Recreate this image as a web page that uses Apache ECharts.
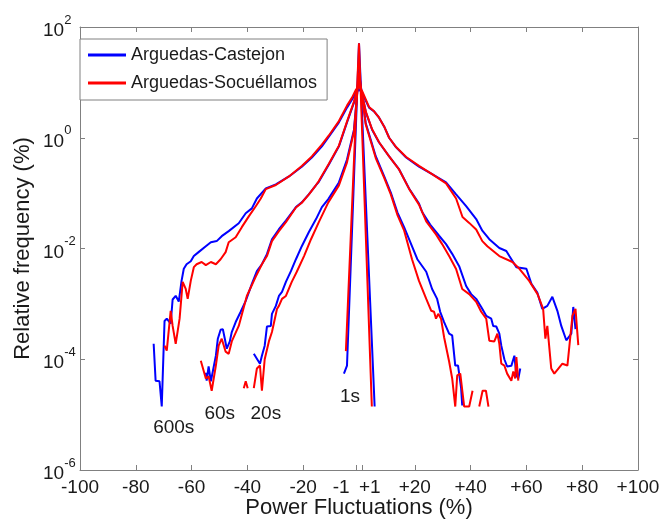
<!DOCTYPE html>
<html>
<head>
<meta charset="utf-8">
<title>Power fluctuations</title>
<script src="https://cdn.jsdelivr.net/npm/echarts@6/dist/echarts.min.js"></script>
<style>
  html, body { margin: 0; padding: 0; background: #fff; }
  #chart { width: 662px; height: 521px; }
</style>
</head>
<body>
<div id="chart"></div>
<script>
// [fluctuation %, relative frequency %]
var castejon600 = [[-73.6,1.9e-4],[-72.9,4.1e-5],[-71.5,4.0e-5],[-70.7,1.4e-5],[-69.7,4.9e-4],[-68.9,5.4e-4],[-67.5,4.4e-4],[-66.8,1.2e-3],[-65.7,1.4e-3],[-64.6,1.1e-3],[-63.6,2.6e-3],[-62.8,4.3e-3],[-61.8,5.2e-3],[-60.3,5.9e-3],[-59.2,7.3e-3],[-57.5,8.6e-3],[-54.9,0.011],[-53.1,0.013],[-51.0,0.0136],[-49.2,0.0167],[-46.7,0.0206],[-43.1,0.0286],[-40.6,0.0434],[-38.4,0.053],[-36.6,0.08],[-33.4,0.122],[-29.8,0.144],[-25.1,0.2],[-20.5,0.30],[-16.9,0.44],[-13.3,0.70],[-10.8,1.05],[-7.2,1.9],[-4.3,3.5],[-2.5,4.9],[-1.1,6.5],[0,7.5],[1.1,6.5],[3.6,3.5],[5.4,3.0],[7.2,2.3],[9.0,1.6],[10.8,1.0],[13.3,0.67],[16.9,0.44],[21.5,0.30],[26.2,0.22],[31.2,0.156],[34.8,0.095],[38.4,0.058],[42.0,0.034],[44.2,0.021],[46.7,0.0147],[50.3,0.0102],[52.8,0.009],[53.9,0.0073],[56.4,0.0046],[60.0,0.0043],[61.8,0.0023],[63.9,0.0016],[65.7,8.1e-4],[67.5,9.2e-4],[69.3,1.34e-3],[71.1,7.5e-4],[72.5,4.0e-4],[74.3,2.2e-4],[76.1,2.9e-4],[76.8,8.8e-4],[77.6,3.5e-4]];
var castejon60 = [[-54.9,5.7e-5],[-54.6,4.1e-5],[-53.9,7.4e-5],[-53.1,4.0e-5],[-52.4,6.0e-5],[-51.3,1.16e-4],[-50.6,2.35e-4],[-49.6,3.4e-4],[-48.8,3.5e-4],[-48.1,2.35e-4],[-47.4,1.55e-4],[-46.3,2.1e-4],[-45.6,3.1e-4],[-44.2,4.7e-4],[-42.4,7.2e-4],[-40.6,1.13e-3],[-38.4,2.3e-3],[-36.6,3.9e-3],[-34.8,5.2e-3],[-33.0,7.9e-3],[-31.2,0.0147],[-28.7,0.0223],[-26.2,0.032],[-22.6,0.056],[-20.5,0.068],[-18.0,0.095],[-15.4,0.14],[-14.4,0.16],[-10.8,0.33],[-7.2,0.70],[-4.3,1.9],[-1.8,4.3],[0,10],[1.1,6.0],[2.5,2.84],[4.7,1.4],[7.2,0.82],[10.8,0.46],[14.4,0.268],[18.0,0.12],[21.5,0.065],[22.7,0.045],[25.5,0.027],[28.7,0.017],[31.2,0.012],[33.4,8.0e-3],[35.9,4.8e-3],[38.4,2.1e-3],[40.2,1.5e-3],[42.0,1.23e-3],[43.8,8.8e-4],[45.6,6.1e-4],[47.4,5.4e-4],[48.1,4.0e-4],[49.2,3.9e-4],[50.3,2.9e-4],[51.0,1.76e-4],[52.1,1.0e-4],[53.1,7.4e-5],[54.6,7.6e-5],[55.7,1.16e-4],[56.4,5.1e-5],[57.1,4.5e-5],[57.8,6.8e-5]];
var castejon20 = [[-37.7,1.26e-4],[-35.5,8.3e-5],[-34.8,1.16e-4],[-33.8,1.76e-4],[-33.0,3.9e-4],[-31.6,4.0e-4],[-31.2,6.6e-4],[-29.8,9.2e-4],[-28.7,1.39e-3],[-27.6,1.64e-3],[-26.2,2.5e-3],[-24.4,3.9e-3],[-22.6,6.4e-3],[-20.5,0.011],[-18.0,0.0197],[-15.4,0.034],[-13.3,0.056],[-11.0,0.078],[-7.2,0.156],[-4.3,0.405],[-1.8,1.4],[0,15.5],[2.4,1.85],[6.0,0.465],[9.0,0.203],[11.4,0.102],[13.8,0.0446],[16.2,0.024],[20.9,6.4e-3],[24.1,3.8e-3],[26.2,1.86e-3],[28.0,1.23e-3],[29.1,7.2e-4],[30.5,4.7e-4],[32.3,2.9e-4],[33.4,2.7e-4],[34.5,7.7e-5],[35.5,7.7e-5],[36.6,3.0e-5],[37.0,1.46e-5]];
var castejon1 = [[-5.4,5.5e-5],[-4.3,7.7e-5],[-3,4.4e-3],[-2,0.1],[-1,2.3],[0,51],[1,3.5],[2,0.23],[3,0.016],[4,1.07e-3],[5,7.2e-5],[5.6,1.4e-5]];

var socuellamos600 = [[-69.7,1.76e-4],[-68.9,1.43e-4],[-67.5,7.5e-4],[-66.8,4.0e-4],[-65.7,1.9e-4],[-64.3,5.4e-4],[-63.2,2.5e-3],[-62.1,1.86e-3],[-61.4,1.23e-3],[-60.3,2.6e-3],[-59.2,4.6e-3],[-58.2,5.2e-3],[-56.4,5.7e-3],[-54.9,5.0e-3],[-53.1,5.7e-3],[-51.3,5.2e-3],[-49.6,6.4e-3],[-47.8,8.6e-3],[-46.7,0.013],[-44.2,0.016],[-42.0,0.0243],[-39.5,0.038],[-37.0,0.058],[-35.2,0.08],[-33.4,0.118],[-29.8,0.14],[-25.1,0.2],[-20.5,0.31],[-16.9,0.46],[-13.3,0.75],[-10.8,1.1],[-7.2,2.0],[-4.3,3.8],[-2.5,5.3],[-1.1,7.4],[0,8.5],[1.1,7.0],[3.6,3.6],[5.4,3.0],[7.2,2.3],[9.0,1.6],[10.8,1.0],[13.3,0.68],[16.9,0.45],[21.5,0.31],[26.2,0.22],[31.2,0.15],[34.8,0.08],[37.1,0.037],[39.5,0.029],[42.0,0.022],[44.2,0.0136],[46.0,0.011],[50.3,0.0073],[55.0,5.7e-3],[57.5,4.3e-3],[61.0,2.6e-3],[64.0,1.5e-3],[66.0,8.1e-4],[66.8,2.35e-4],[67.5,4.0e-4],[68.9,6.8e-5],[70.0,5.5e-5],[72.9,8.3e-5],[74.7,7.7e-5],[76.5,6.1e-4],[77.6,8.1e-4],[78.6,1.8e-4]];
var socuellamos60 = [[-56.7,9.4e-5],[-54.9,4.5e-5],[-53.9,4.9e-5],[-52.8,2.7e-5],[-51.3,7.7e-5],[-50.3,1.76e-4],[-49.2,2.35e-4],[-47.8,1.37e-4],[-46.7,1.25e-4],[-45.6,2.1e-4],[-43.1,4.0e-4],[-40.2,1.39e-3],[-37.0,3.1e-3],[-34.8,5.2e-3],[-33.0,7.3e-3],[-31.2,0.0136],[-28.7,0.0206],[-26.2,0.030],[-22.6,0.055],[-20.5,0.067],[-18.0,0.094],[-15.4,0.14],[-14.4,0.165],[-10.8,0.34],[-7.2,0.72],[-4.3,1.95],[-1.8,4.5],[0,10],[1.1,6.2],[2.5,2.9],[4.7,1.42],[7.2,0.83],[10.8,0.46],[14.4,0.265],[18.0,0.118],[21.5,0.062],[24.1,0.031],[27.6,0.018],[29.8,0.012],[32.3,7.3e-3],[34.8,4.25e-3],[37.0,1.86e-3],[39.5,1.5e-3],[42.0,1.09e-3],[43.8,7.2e-4],[45.6,5.4e-4],[46.7,2.16e-4],[48.5,2.1e-4],[49.6,2.9e-4],[50.3,1.9e-4],[51.0,8.3e-5],[52.1,7.7e-5],[53.1,5.5e-5],[54.6,4.1e-5],[55.3,6.0e-5],[56.0,4.5e-5],[56.4,1.1e-4],[57.1,4.1e-5]];
var socuellamos20 = [[-41.3,3.0e-5],[-40.6,4.0e-5],[-39.9,3.0e-5],[-38.8,null],[-37.7,3.0e-5],[-36.6,6.8e-5],[-35.5,7.7e-5],[-34.8,2.7e-5],[-33.8,1.0e-4],[-32.3,2.1e-4],[-31.2,3.1e-4],[-29.4,8.1e-4],[-28.7,9.2e-4],[-27.6,1.23e-3],[-26.2,1.39e-3],[-24.1,2.5e-3],[-22.3,3.8e-3],[-19.7,7.3e-3],[-17.2,0.0147],[-14.4,0.030],[-11.0,0.068],[-7.2,0.138],[-4.3,0.36],[-1.8,1.3],[0,15],[2.4,1.75],[6.0,0.43],[9.0,0.19],[11.4,0.095],[13.8,0.04],[16.2,0.021],[19.0,6.4e-3],[21.5,2.6e-3],[24.1,1.23e-3],[25.9,7.5e-4],[26.9,7.2e-4],[27.6,5.4e-4],[28.4,6.6e-4],[29.4,5.4e-4],[30.5,2.5e-4],[32.3,9.1e-5],[33.4,4.5e-5],[34.5,1.4e-5],[35.2,5.1e-5],[36.3,5.5e-5],[37.7,1.4e-5],[39.5,1.4e-5],[40.7,2.7e-5],[41.9,null],[43.1,1.4e-5],[44.3,2.7e-5],[45.5,2.7e-5],[46.4,1.4e-5]];
var socuellamos1 = [[-4.7,1.4e-4],[-4,9.5e-4],[-3,0.0145],[-2,0.22],[-1,3.4],[0,51],[1,1.9],[2,0.072],[3,2.7e-3],[4,1.0e-4],[4.6,1.4e-5]];

var xTicks = [-100, -80, -60, -40, -20, -1, 1, 20, 40, 60, 80, 100];
var yTicks = [1e-6, 1e-4, 1e-2, 1, 100];
var scaleNames = ['600s', '60s', '20s', '1s'];
var scaleAnchors = [[-66.4, 5.9e-6], [-49.9, 1.05e-5], [-33.4, 1.05e-5], [-3.2, 2.1e-5]];

var FONT = '"Liberation Sans", Arial, sans-serif';
var AXIS_GREY = '#808080';
var TEXT = '#1a1a1a';
var BLUE = '#0000ff';
var RED = '#ff0000';

function lineSeries(name, data, color) {
  return {
    type: 'line',
    name: name,
    data: data,
    symbol: 'none',
    showSymbol: false,
    connectNulls: false,
    itemStyle: { color: color },
    lineStyle: { color: color, width: 2 },
    emphasis: { disabled: true }
  };
}

function frameAxis(extra) {
  var base = {
    axisLine: { show: true, onZero: false, lineStyle: { color: AXIS_GREY, width: 1 } },
    axisTick: { show: true, inside: true, length: 5, lineStyle: { color: AXIS_GREY } },
    splitLine: { show: false },
    nameMoveOverlap: false
  };
  return Object.assign(base, extra);
}

var chart = echarts.init(document.getElementById('chart'), null, { renderer: 'canvas' });

chart.setOption({
  animation: false,
  backgroundColor: '#fff',
  textStyle: { fontFamily: FONT },
  grid: { left: 80, right: 24, top: 27, bottom: 51, containLabel: false, outerBoundsMode: 'none' },
  legend: {
    data: ['Arguedas-Castejon', 'Arguedas-Socuéllamos'],
    orient: 'vertical',
    left: 80,
    top: 39,
    icon: 'rect',
    itemWidth: 38,
    itemHeight: 3,
    itemGap: 10,
    padding: [7, 10, 8, 8],
    borderColor: AXIS_GREY,
    borderWidth: 1,
    backgroundColor: '#fff',
    textStyle: { fontSize: 18, color: TEXT, fontFamily: FONT }
  },
  xAxis: [
    frameAxis({
      type: 'value', position: 'bottom', min: -100, max: 100,
      axisTick: { show: true, inside: true, length: 5, customValues: xTicks, lineStyle: { color: AXIS_GREY } },
      axisLabel: {
        customValues: xTicks, margin: 8, fontSize: 19, color: TEXT, fontFamily: FONT,
        formatter: function (v) {
          if (v === -1) return '{neg|-1}';
          if (v === 1) return '{pos|+1}';
          return v > 0 ? '+' + v : String(v);
        },
        rich: {
          neg: { fontSize: 19, color: TEXT, fontFamily: FONT, padding: [0, 30, 0, 0] },
          pos: { fontSize: 19, color: TEXT, fontFamily: FONT, padding: [0, 0, 0, 16] }
        }
      },
      name: 'Power Fluctuations (%)', nameLocation: 'middle', nameGap: 27,
      nameTextStyle: { fontSize: 22, color: TEXT, fontFamily: FONT }
    }),
    frameAxis({
      type: 'value', position: 'top', min: -100, max: 100,
      axisTick: { show: true, inside: true, length: 5, customValues: xTicks, lineStyle: { color: AXIS_GREY } },
      axisLabel: { show: false }
    })
  ],
  yAxis: [
    frameAxis({
      type: 'log', logBase: 10, position: 'left', min: 1e-6, max: 100,
      axisTick: { show: true, inside: true, length: 5, customValues: yTicks, lineStyle: { color: AXIS_GREY } },
      axisLabel: {
        customValues: yTicks, align: 'left', margin: 37, color: TEXT, fontFamily: FONT,
        formatter: function (v) {
          var p = Math.round(Math.log(v) / Math.LN10);
          return '{b|10}{s|' + p + '}';
        },
        rich: {
          b: { fontSize: 19, color: TEXT, fontFamily: FONT, verticalAlign: 'bottom' },
          s: { fontSize: 13, color: TEXT, fontFamily: FONT, padding: [0, 0, 14, 0] }
        }
      },
      name: 'Relative frequency (%)', nameLocation: 'middle', nameGap: 46,
      nameTextStyle: { fontSize: 22, color: TEXT, fontFamily: FONT }
    }),
    frameAxis({
      type: 'log', logBase: 10, position: 'right', min: 1e-6, max: 100,
      axisTick: { show: true, inside: true, length: 5, customValues: yTicks, lineStyle: { color: AXIS_GREY } },
      axisLabel: { show: false }
    })
  ],
  series: [
    lineSeries('Arguedas-Castejon', castejon600, BLUE),
    lineSeries('Arguedas-Castejon', castejon60, BLUE),
    lineSeries('Arguedas-Castejon', castejon20, BLUE),
    lineSeries('Arguedas-Castejon', castejon1, BLUE),
    lineSeries('Arguedas-Socuéllamos', socuellamos600, RED),
    lineSeries('Arguedas-Socuéllamos', socuellamos60, RED),
    lineSeries('Arguedas-Socuéllamos', socuellamos20, RED),
    lineSeries('Arguedas-Socuéllamos', socuellamos1, RED),
    {
      type: 'scatter',
      name: 'Time scale',
      silent: true,
      symbolSize: 1,
      itemStyle: { color: 'rgba(0,0,0,0)', opacity: 1 },
      data: scaleAnchors.map(function (p, i) { return { name: scaleNames[i], value: p }; }),
      label: {
        show: true, position: 'inside', formatter: '{b}', opacity: 1,
        fontSize: 19, color: TEXT, fontFamily: FONT,
        textBorderWidth: 0
      }
    }
  ]
});
</script>
</body>
</html>
